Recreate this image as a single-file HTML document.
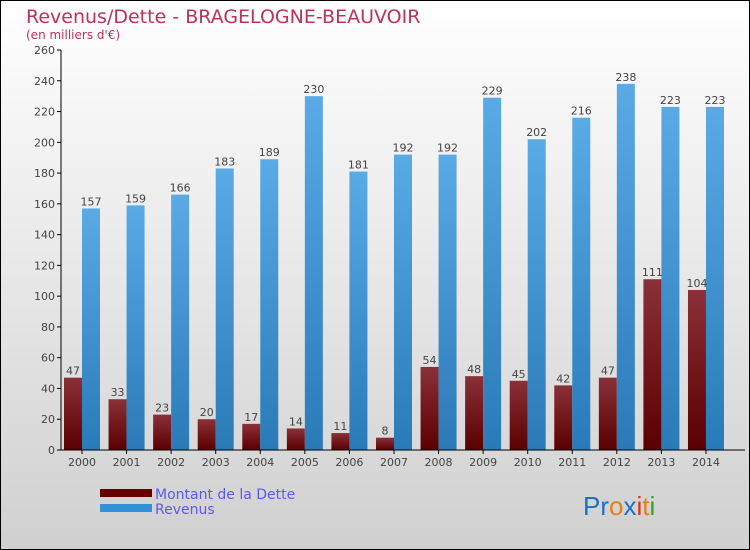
<!DOCTYPE html>
<html><head><meta charset="utf-8"><style>
html,body{margin:0;padding:0}
body{width:750px;height:550px;overflow:hidden;font-family:"DejaVu Sans","Liberation Sans",sans-serif}
#wrap{position:absolute;left:0;top:0;width:748px;height:548px;border:1px solid #000;background:linear-gradient(#ffffff,#d0d0d0)}
</style></head><body>
<div id="wrap">
<svg id="chart" width="750" height="550" style="position:absolute;left:-1px;top:-1px">
<defs>
<linearGradient id="gd" x1="0" y1="0" x2="0" y2="1"><stop offset="0" stop-color="#8a3038"/><stop offset="1" stop-color="#5a0000"/></linearGradient>
<linearGradient id="gr" x1="0" y1="0" x2="0" y2="1"><stop offset="0" stop-color="#5aaae6"/><stop offset="1" stop-color="#2a7ab8"/></linearGradient>
</defs>
<text x="26" y="23" font-size="19" fill="#c0305a">Revenus/Dette - BRAGELOGNE-BEAUVOIR</text>
<text x="26" y="39" font-size="12" fill="#c0305a">(en milliers d'€)</text>
<g id="plot"></g>
<rect x="100" y="489" width="52" height="8" fill="#640000"/>
<rect x="100" y="504" width="52" height="8" fill="#3090d8"/>
<text x="155" y="499" font-size="14" fill="#5a5af0">Montant de la Dette</text>
<text x="155" y="514" font-size="14" fill="#5a5af0">Revenus</text>
<text x="583" y="515" font-size="26" font-family="Liberation Sans,sans-serif"><tspan fill="#1a70c8">Pr</tspan><tspan fill="#e88010">o</tspan><tspan fill="#1a70c8">x</tspan><tspan fill="#e03010">i</tspan><tspan fill="#e88010">t</tspan><tspan fill="#30a030">i</tspan></text>
</svg>
</div>
<script>
const years=["2000","2001","2002","2003","2004","2005","2006","2007","2008","2009","2010","2011","2012","2013","2014"];
const dette=[47,33,23,20,17,14,11,8,54,48,45,42,47,111,104];
const revenus=[157,159,166,183,189,230,181,192,192,229,202,216,238,223,223];
const yTicks=[0,20,40,60,80,100,120,140,160,180,200,220,240,260];
const NS="http://www.w3.org/2000/svg";
const g=document.getElementById('plot');
const y=v=>450-v*400/260;
const xc=i=>82+i*44.57;
function mk(t,a,name){const e=document.createElementNS(NS,t);for(const k in a)e.setAttribute(k,a[k]);


g.appendChild(e);return e;}
yTicks.forEach(v=>{
mk('line',{x1:57,x2:61,y1:y(v),y2:y(v),stroke:'#000'},'y-tick');
const t=mk('text',{x:55,y:y(v)+4,'font-size':11,fill:'#444','text-anchor':'end'},'y-tick-label');t.textContent=v;
});
years.forEach((yr,i)=>{
const c=xc(i);
mk('rect',{x:c-18,y:y(dette[i]),width:18,height:450-y(dette[i]),fill:'url(#gd)'},'bar-dette-'+yr);
mk('rect',{x:c,y:y(revenus[i]),width:18,height:450-y(revenus[i]),fill:'url(#gr)'},'bar-revenus-'+yr);
let t=mk('text',{x:c-9,y:y(dette[i])-3,'font-size':11,fill:'#444','text-anchor':'middle'},'value-dette');t.textContent=dette[i];
t=mk('text',{x:c+9,y:y(revenus[i])-3,'font-size':11,fill:'#444','text-anchor':'middle'},'value-revenus');t.textContent=revenus[i];
mk('line',{x1:c,x2:c,y1:450,y2:454,stroke:'#000'},'x-tick');
t=mk('text',{x:c,y:466,'font-size':11,fill:'#444','text-anchor':'middle'},'x-tick-label');t.textContent=yr;
});
mk('line',{x1:61,x2:61,y1:50,y2:450,stroke:'#000'},'y-axis');
mk('line',{x1:61,x2:745,y1:450,y2:450,stroke:'#000'},'x-axis');
</script>
</body></html>
